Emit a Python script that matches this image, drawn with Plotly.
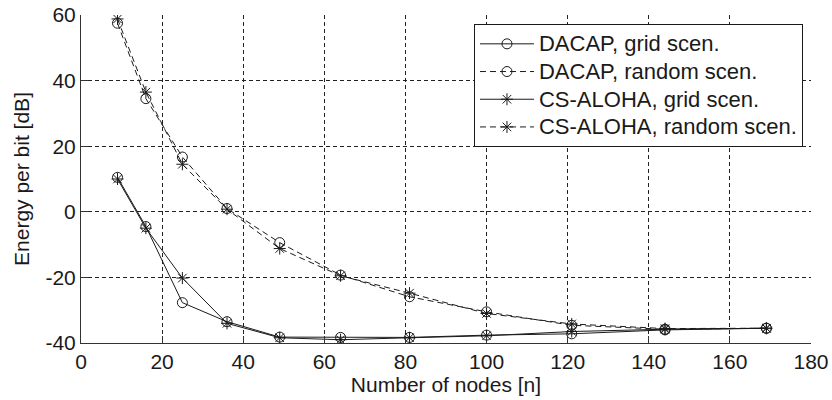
import plotly.graph_objects as go

nodes = [9, 16, 25, 36, 49, 64, 81, 100, 121, 144, 169]
dacap_grid = [10.5, -4.5, -27.7, -33.5, -38.2, -38.3, -38.3, -37.6, -37.2, -36.0, -35.5]
dacap_random = [57.5, 34.5, 16.7, 1.0, -9.4, -19.3, -25.9, -30.5, -34.6, -35.8, -35.5]
csaloha_grid = [10.0, -5.0, -20.2, -34.0, -38.4, -39.0, -38.4, -37.8, -36.5, -35.8, -35.5]
csaloha_random = [58.8, 36.5, 14.5, 0.8, -11.2, -19.5, -24.8, -31.0, -34.2, -35.6, -35.5]

x_ticks = [0, 20, 40, 60, 80, 100, 120, 140, 160, 180]
y_ticks = [-40, -20, 0, 20, 40, 60]

names = ["DACAP, grid scen.", "DACAP, random scen.", "CS-ALOHA, grid scen.", "CS-ALOHA, random scen."]
series = [dacap_grid, dacap_random, csaloha_grid, csaloha_random]
symbols = ["circle-open", "circle-open", "asterisk-open", "asterisk-open"]
dashes = ["solid", "6px,4px", "solid", "6px,4px"]

fig = go.Figure()
for name, ys, sym, dash in zip(names, series, symbols, dashes):
    fig.add_trace(go.Scatter(
        x=nodes, y=ys, name='<span style="font-size:22px">' + name + '</span>',
        mode="lines+markers",
        line=dict(color="#1a1a1a", width=1, dash=dash),
        marker=dict(symbol=sym, size=10, color="#1a1a1a", line=dict(width=1, color="#1a1a1a")),
    ))

font = dict(family="Liberation Sans, Arial, sans-serif", size=21, color="#1a1a1a")
axis_common = dict(
    showline=True, linecolor="#333333", linewidth=1,
    ticks="inside", ticklen=7, tickcolor="#333333",
    showgrid=True, gridcolor="#222222", gridwidth=1, griddash="4px,3px",
    zeroline=False, tickfont=font, mirror=False, automargin=False,
)
fig.update_layout(
    width=832, height=400,
    margin=dict(l=81, r=21, t=15, b=57, autoexpand=False),
    paper_bgcolor="white", plot_bgcolor="white",
    font=font,
    xaxis=dict(range=[0, 180], tickvals=x_ticks, ticktext=[str(v) for v in x_ticks],
               title=dict(text="Number of nodes [n]", font=font, standoff=4), **axis_common),
    yaxis=dict(range=[-40, 60], tickvals=y_ticks, ticktext=[str(v) for v in y_ticks],
               title=dict(text="Energy per bit [dB]", font=font, standoff=10), **axis_common),
    legend=dict(x=0.989, y=0.9726, xanchor="right", yanchor="top",
                bgcolor="white", bordercolor="#1a1a1a", borderwidth=1,
                font=dict(family="Liberation Sans, Arial, sans-serif", size=19, color="#1a1a1a"),
                itemwidth=54, tracegroupgap=0),
    showlegend=True,
)
fig.write_html("out.html")
